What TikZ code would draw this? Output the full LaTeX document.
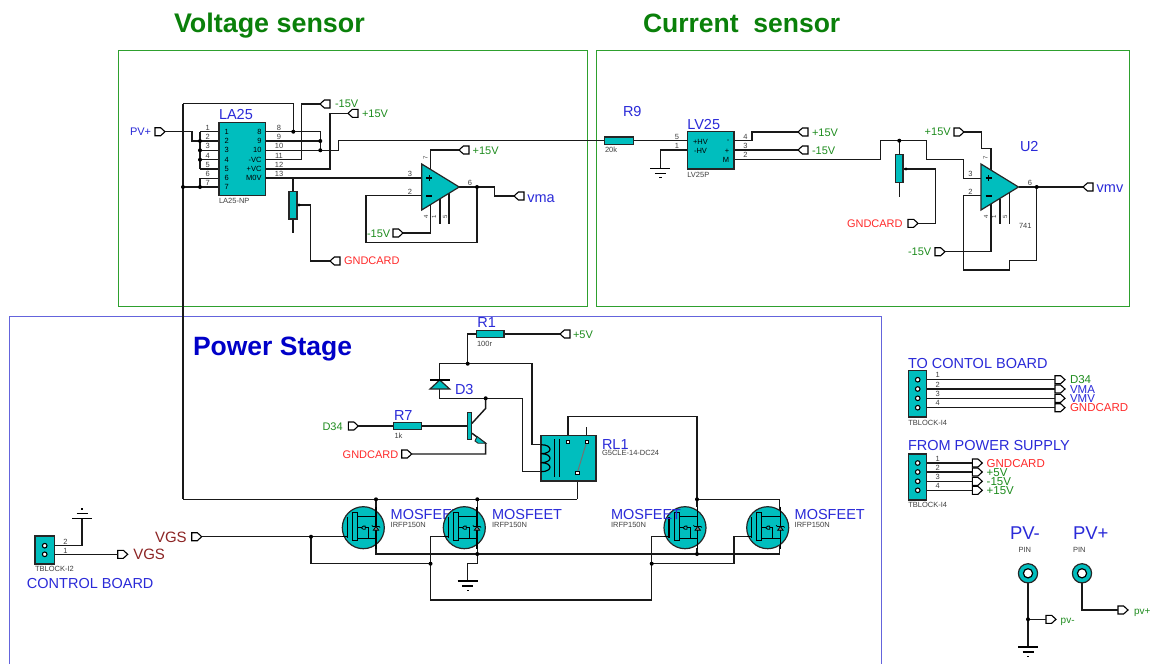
\documentclass[tikz,border=0pt]{standalone}
\usepackage{fontspec}
\setmainfont{Liberation Sans}
\usetikzlibrary{shapes.symbols}
\definecolor{teal1}{HTML}{00BEBE}
\definecolor{cB}{HTML}{2A2AD8}
\definecolor{cG}{HTML}{1E8C1E}
\definecolor{cR}{HTML}{FF2A2A}
\definecolor{cD}{HTML}{8C2424}
\definecolor{cH}{HTML}{0A800A}
\definecolor{cP}{HTML}{0000C8}
\definecolor{cT}{HTML}{404040}
\definecolor{boxG}{HTML}{2EA02E}
\definecolor{boxB}{HTML}{6464DC}
\newcounter{lbl}
\newcommand{\lab}[3]{\stepcounter{lbl}\node[#1] (lab\arabic{lbl}) at (#2) {#3};}
\tikzset{
  wire/.style={line width=1.45pt,black!90,line join=miter},
  chip/.style={draw=black!85,fill=teal1,line width=1.5pt,inner sep=0,outer sep=0,anchor=north west},
  comp/.style={draw=black!85,fill=teal1,line width=1.2pt},
  flagR/.style={draw=black,fill=white,line width=1.1pt,signal,signal to=east,signal pointer angle=85,minimum width=10pt,minimum height=8pt,inner sep=0,outer sep=0,anchor=west},
  flagL/.style={draw=black,fill=white,line width=1.1pt,signal,signal to=west,signal pointer angle=85,minimum width=10pt,minimum height=8pt,inner sep=0,outer sep=0,anchor=west},
  txt/.style={anchor=mid west,inner sep=0,outer sep=0},
  hdG/.style={txt,yshift=-6.9pt,font=\bfseries\fontsize{26.5}{28}\selectfont,text=cH},
  hdB/.style={txt,yshift=-6.9pt,font=\bfseries\fontsize{26.5}{28}\selectfont,text=cP},
  bigB/.style={txt,yshift=-2.6pt,font=\fontsize{14.5}{15}\selectfont,text=cB},
  hugeB/.style={txt,yshift=-4pt,font=\fontsize{18.5}{19}\selectfont,text=cB},
  vgs/.style={txt,yshift=-2.8pt,font=\fontsize{15}{16}\selectfont,text=cD},
  sG/.style={txt,yshift=-1.35pt,font=\fontsize{11}{12}\selectfont,text=cG},
  sR/.style={txt,yshift=-1.35pt,font=\fontsize{11}{12}\selectfont,text=cR},
  sB/.style={txt,yshift=-1.35pt,font=\fontsize{11}{12}\selectfont,text=cB},
  mG/.style={txt,yshift=-1.5pt,font=\fontsize{11.5}{12}\selectfont,text=cG},
  mR/.style={txt,yshift=-1.5pt,font=\fontsize{11.5}{12}\selectfont,text=cR},
  mB/.style={txt,yshift=-1.5pt,font=\fontsize{11.5}{12}\selectfont,text=cB},
  tinyT/.style={txt,yshift=-.1pt,font=\fontsize{7.5}{8}\selectfont,text=cT},
  pnum/.style={inner sep=0,outer sep=0,font=\fontsize{7.5}{8}\selectfont,text=cT},
  pnumR/.style={pnum,font=\fontsize{6}{7}\selectfont,rotate=90},
  inC/.style={inner sep=0,outer sep=0,font=\fontsize{7.5}{8}\selectfont,text=black},
  inE/.style={inC,anchor=east},
  opamp/.pic={
    \draw[comp] (0,-23) -- (37.5,0) -- (0,23) -- cycle;
    \draw[line width=1.2pt] (4.5,-9) -- (10.5,-9) (7.5,-12) -- (7.5,-6) (4.5,9) -- (10.5,9);
  },
  mosfet/.pic={
    \draw[comp,line width=1.2pt] (0,0) circle (21);
    \draw[line width=1.1pt] (12.7,-21) -- (12.7,21) (-21,9) -- (-16,9) (-16,-11) -- (-16,10);
    \draw[line width=1pt] (-6,-11) -- (12.7,-11) (-6,10.6) -- (12.7,10.6);
    \draw[line width=.9pt,fill=teal1] (-11,-15.4) rectangle (-6,12.3);
    \draw[line width=.9pt] (-6,0) -- (-2,0) (2,0) -- (5,0) -- (5,10.6);
    \draw[line width=.8pt] (-2,0) -- (0,-1.6) -- (2,-1.6) -- (2,1.6) -- (0,1.6) -- cycle;
    \draw[line width=.7pt,fill=black!50] (10,2.5) -- (15.4,2.5) -- (12.7,-1.2) -- cycle;
    \draw[line width=.7pt] (8.5,-2.5) -- (9.5,-1.2) -- (15.9,-1.2) -- (16.9,-0.2);
  },
  gnd/.pic={
    \draw[line width=1.2pt] (-10,0) -- (10,0) (-5.5,5) -- (5.5,5);
    \fill (-1.2,8.5) rectangle (1.2,10);
  },
  tpin/.pic={
    \draw[comp,line width=1.2pt] (0,0) circle (9.6);
    \draw[line width=1.2pt,fill=white] (0,0) circle (4.6);
  },
  contact/.style={draw=black,fill=white,line width=.8pt,inner sep=0,outer sep=0,minimum size=3.6pt},
  term/.style={circle,draw=black,fill=white,line width=1.1pt,inner sep=0,outer sep=0,minimum size=4.6pt}
}
\begin{document}
\begin{tikzpicture}[x=1pt,y=-1pt]
\useasboundingbox (0,0) rectangle (1153,664);
\fill[white] (0,0) rectangle (1153,664);
% group frames
\draw[boxG,line width=.8pt] (118,50) rectangle (587,306);
\draw[boxG,line width=.8pt] (596,50) rectangle (1129,306);
\draw[boxB,line width=.9pt] (9,664) -- (9,316) -- (881,316) -- (881,664);
\lab{hdG,font=\bfseries\fontsize{26.9}{28}\selectfont}{174,23}{Voltage sensor}
\lab{hdG}{643,23}{Current\ \ sensor}
\lab{hdB}{193,346}{Power Stage}

% ---------- coordinates
\foreach \n/\y in {1/131.7,2/141,3/150.3,4/159.7,5/169,6/178.3,7/187}{\coordinate (L\n) at (219,\y); \coordinate (B\n) at (200,\y);}
\foreach \n/\y in {8/131.7,9/141,10/150.3,11/159.7,12/169,13/178}{\coordinate (R\n) at (265.7,\y);}
\coordinate (top) at (183,103.7);
\coordinate (busL) at (183,187);
\coordinate (busB) at (183,499.3);
\coordinate (j8) at (293.3,131.7);
\coordinate (j9) at (320.3,141);
\coordinate (j10) at (320.3,150.3);
\coordinate (ja1) at (477,187);
\coordinate (ju2) at (1036.7,187);
\coordinate (jcs) at (899.3,140.7);
\coordinate (jm1) at (376,499.3);
\coordinate (jm2) at (477.3,499.3);
\coordinate (jm3) at (697,499.3);
\coordinate (jrelay) at (577.3,499.3);
\coordinate (js2) at (477.3,554);
\coordinate (js3) at (697,554);
\coordinate (jv) at (311,536.7);
\coordinate (jg2) at (430.5,563.7);
\coordinate (jg3) at (651.7,563.7);
\coordinate (jd3a) at (467.7,363.7);
\coordinate (jd3b) at (485.7,398.3);
\coordinate (jpv) at (1028,619.3);

% ---------- terminal flags
\node[flagR] (fpv) at (155,131.7) {};
\node[flagL] (fm15a) at (320,104) {};
\node[flagL] (fp15a) at (348,113.3) {};
\node[flagL] (fp15b) at (459,150) {};
\node[flagR] (fm15b) at (393,233) {};
\node[flagL] (fvma) at (514,196) {};
\node[flagL] (fgnda) at (330,261) {};
\node[flagL] (fp15c) at (798,132) {};
\node[flagL] (fm15c) at (798,150) {};
\node[flagR] (fp15d) at (954,132) {};
\node[flagR] (fm15d) at (935,251.7) {};
\node[flagR] (fgndb) at (908,223.3) {};
\node[flagL] (fvmv) at (1083,187) {};
\node[flagL] (fp5) at (560,334) {};
\node[flagR] (fd34) at (348.3,426) {};
\node[flagR] (fgndc) at (401.7,454) {};
\node[flagR] (fvgs) at (191.7,536.7) {};
\node[flagR] (fvgs2) at (117.7,554.3) {};
\foreach \i/\y in {1/379.7,2/389,3/398.3,4/407.7}{\node[flagR] (ft\i) at (1055,\y) {};}
\foreach \i/\y in {1/463,2/472,3/481.3,4/490.3}{\node[flagR] (fs\i) at (972.3,\y) {};}
\node[flagR] (fpvm) at (1046,619.3) {};
\node[flagR] (fpvp) at (1118,610) {};

% ---------- LA25 wiring
\draw[wire] (fpv.east) -- (192,131.7) -- (192,141) -- (B2);
\draw[wire] (B1) -- (B5);
\foreach \n in {1,2,3,4,5,6,7}{\draw[wire] (B\n) -- (L\n);}
\draw[wire] (B6) -- (B7);
\draw[wire] (busL) -- (B7);
\draw[wire] (top) -- (busB);
\draw[wire] (top) -| (j8);
\draw[wire] (R8) -- (320.3,131.7) -- (j10);
\draw[wire] (R9) -- (j9);
\draw[wire] (R10) -- (338.7,150.3) -- (338.7,140.7) -- (604.7,140.7);
\draw[wire] (R11) -- (301.7,159.7) -- (301.7,104) -- (fm15a.west);
\draw[wire] (R12) -- (330,169) -- (330,113.3) -- (fp15a.west);
\draw[wire] (R13) -- (421.7,178);
\draw[wire] (293,178) -- (293,233);
\draw[wire] (297,205) -- (310.7,205) -- (310.7,261) -- (fgnda.west);
% op amp 1 wiring
\draw[wire] (421.7,195.7) -- (366,195.7) -- (366,242.3) -- (477,242.3) -- (ja1);
\draw[wire] (459.2,187) -- (494.3,187) -- (494.3,196) -- (fvma.west);
\draw[wire] (430.3,170) -- (430.3,150) -- (fp15b.west);
\draw[wire] (fm15b.east) -- (430.3,233) -- (430.3,204);
\draw[wire,line width=1.1pt] (440,199) -- (440,224) (449,193) -- (449,224);

% ---------- current sensor wiring
\draw[wire] (633,140.7) -- (687.3,140.7);
\draw[wire] (687.3,150) -- (660.3,150) -- (660.3,168.3);
\draw[wire] (734,140.7) -- (752,140.7) -- (752,132) -- (fp15c.west);
\draw[wire] (734,150) -- (fm15c.west);
\draw[wire] (734,159.3) -- (880.7,159.3) -- (880.7,140.7) -- (926.7,140.7) -- (926.7,159.3) -- (963.3,159.3) -- (963.3,178.3) -- (981,178.3);
\draw[wire] (jcs) -- (899.3,196.7);
\draw[wire] (903,169) -- (935.7,169) -- (935.7,223.3) -- (fgndb.east);
\draw[wire] (fp15d.east) -- (981.7,132) -- (981.7,148.7) -- (991,148.7) -- (991,170);
\draw[wire] (fm15d.east) -- (991,251.7) -- (991,204);
\draw[wire,line width=1.1pt] (1000,199) -- (1000,224) (1009.3,193) -- (1009.3,224);
\draw[wire] (981,195.7) -- (963.3,195.7) -- (963.3,270) -- (1009.3,270) -- (1009.3,260.7) -- (1036.7,260.7) -- (ju2);
\draw[wire] (1018.7,187) -- (fvmv.west);

% ---------- power stage wiring
\draw[wire] (fp5.west) -- (504,334);
\draw[wire] (476.7,334) -- (467.7,334) -- (jd3a);
\draw[wire] (439.7,380) -- (439.7,363.7) -- (532,363.7) -- (532,444.7) -- (541,444.7);
\draw[wire] (439.7,389) -- (439.7,398.3) -- (522.3,398.3) -- (522.3,471.7) -- (541,471.7);
\draw[wire] (fd34.east) -- (393.3,426);
\draw[wire] (421.7,426) -- (467.7,426);
\draw[wire] (jd3b) -- (485.7,408.3) -- (472,423.3);
\draw[wire] (472,433.3) -- (485.7,443.3) -- (485.7,454) -- (fgndc.east);
\draw[wire] (568,441.7) -- (568,416.7) -- (697,416.7) -- (697,507);
\draw[wire] (586.7,441.7) -- (586.7,426.7);
\draw[wire] (577.3,472.7) -- (jrelay);
\draw[wire] (busB) -- (jrelay);
\draw[wire] (jm1) -- (376,507) (jm2) -- (477.3,507);
\draw[wire] (376,548) -- (376,554) -- (779.7,554) -- (779.7,499.3) -- (jm3);
\draw[wire] (697,548) -- (js3);
\draw[wire] (js2) -- (477.3,563.7) -- (467.7,563.7) -- (467.7,581);
\draw[wire] (477.3,548) -- (js2);
\draw[wire] (fvgs.east) -- (342.3,536.7);
\draw[wire] (jv) -- (311,563.7) -- (jg2);
\draw[wire] (443.3,536.7) -- (430.5,536.7) -- (430.5,600) -- (651.7,600) -- (651.7,536.7) -- (664,536.7);
\draw[wire] (jg3) -- (734,563.7) -- (734,536.7) -- (746.7,536.7);

% ---------- control board block wiring
\draw[wire] (44.7,545.7) -- (82,545.7) -- (82,518.3);
\draw[wire] (44.7,554.3) -- (fvgs2.west);

% ---------- connector blocks wiring
\foreach \i/\y in {1/379.7,2/389,3/398.3,4/407.7}{\draw[wire] (917.7,\y) -- (ft\i.west);}
\foreach \i/\y in {1/463,2/472,3/481.3,4/490.3}{\draw[wire] (917.7,\y) -- (fs\i.west);}
\draw[wire] (1028,573) -- (1028,647);
\draw[wire] (jpv) -- (fpvm.west);
\draw[wire] (1082,573) -- (1082,610) -- (fpvp.west);

% ---------- components
\node[chip,minimum width=46.7pt,minimum height=73.4pt] (la25) at (219,122.3) {};
\node[chip,minimum width=46.7pt,minimum height=37.3pt] (lv25) at (687.3,131.7) {};
\node[chip,minimum width=7.7pt,minimum height=27.3pt] (pot1) at (289.2,191.7) {};
\node[chip,minimum width=7.4pt,minimum height=28pt] (pot2) at (895.5,154.3) {};
\node[chip,minimum width=28.6pt,minimum height=7.3pt] (r9) at (604.7,137) {};
\node[chip,minimum width=27.3pt,minimum height=7.4pt] (r1) at (476.7,330.3) {};
\node[chip,minimum width=28.4pt,minimum height=7pt] (r7) at (393.3,422.4) {};
\fill (299,205) circle (1.7);
\fill (906,169) circle (1.7);
\pic at (421.7,187) {opamp};
\pic at (981,187) {opamp};

% diode D3
\draw[comp] (439.7,380) -- (430,389) -- (449.7,389) -- cycle;
\draw[line width=1.3pt] (430,380) -- (450,380);

% transistor
\draw[comp,line width=1.1pt] (467.7,412.7) rectangle (471.7,439.3);
\draw[comp,line width=.9pt] (477,436.5) -- (485.7,443.3) -- (478,443.2) -- (475,441) -- cycle;

% relay
\node[chip,minimum width=55pt,minimum height=45.7pt] (rl1) at (541,435.3) {};
\draw[line width=1.2pt] (541,444.7) .. controls (553,444.7) and (553,453.7) .. (541,453.7) .. controls (553,453.7) and (553,462.7) .. (541,462.7) .. controls (553,462.7) and (553,471.7) .. (541,471.7);
\draw[line width=1.1pt] (554.3,439.3) -- (554.3,476.7) (559.3,439.3) -- (559.3,476.7);
\draw[line width=1pt,black!55] (577.3,472.7) -- (586.7,441.7);
\node[contact] (c1) at (568,441.7) {};
\node[contact] (c2) at (586.7,441.7) {};
\node[contact] (c3) at (577.3,472.7) {};

% grounds
\pic at (660.3,168.3) {gnd};
\pic at (467.7,581) {gnd};
\pic at (1028,647) {gnd};
\pic[yscale=-1] at (82,518.3) {gnd};

% MOSFETs (in drawing order so the labels overlap as printed)
\pic at (363.3,527.7) {mosfet};
\lab{bigB}{390.7,514}{MOSFEET}
\lab{tinyT}{390.7,524.5}{IRFP150N}
\pic at (464.3,527.7) {mosfet};
\lab{bigB}{492,514}{MOSFEET}
\lab{tinyT}{492,524.5}{IRFP150N}
\pic at (685,527.7) {mosfet};
\lab{bigB}{611,514}{MOSFEET}
\lab{tinyT}{611,524.5}{IRFP150N}
\pic at (767.7,527.7) {mosfet};
\lab{bigB}{794.7,514}{MOSFEET}
\lab{tinyT}{794.7,524.5}{IRFP150N}

% terminal blocks
\node[chip,minimum width=18.4pt,minimum height=46.7pt] (tb1) at (908.3,370.3) {};
\node[chip,minimum width=18.4pt,minimum height=46pt] (tb2) at (908.3,454) {};
\node[chip,minimum width=19.3pt,minimum height=28pt] (tb3) at (35,536) {};
\foreach \y in {379.7,389,398.3,407.7,463,472,481.3,490.3}{\node[term] at (917.7,\y) {};}
\foreach \y in {545.7,554.3}{\node[term] at (44.7,\y) {};}
\pic at (1028,573.3) {tpin};
\pic at (1082,573.3) {tpin};

% junctions
\foreach \p in {B2,B3,B4,B7,busL,j8,j9,j10,ja1,ju2,jcs,jm1,jm2,jm3,js2,js3,jv,jg2,jg3,jd3a,jd3b,jpv}{\fill (\p) circle (2);}

% ---------- LA25 text
\lab{bigB}{219,114.5}{LA25}
\lab{tinyT}{219,201}{LA25-NP}
\foreach \n/\y in {1/131.7,2/141,3/150.3,4/159.7,5/169,6/178.3,7/187}{
  \lab{inC}{226.7,\y}{\n}
  \lab{pnum}{207.7,\y-4.2}{\n}
}
\foreach \t/\y in {8/131.7,9/141,10/150.3,-VC/159.7,+VC/169,M0V/178.3}{\lab{inE}{261.5,\y}{\t}}
\foreach \n/\y in {8/131.7,9/141,10/150.3,11/159.7,12/169,13/178.3}{\lab{pnum}{279,\y-4.2}{\n}}
\lab{sB}{130,132}{PV+}
\lab{sG}{335,104}{-15V}
\lab{sG}{362,113.5}{+15V}
\lab{sG}{472.7,150.5}{+15V}
\lab{sG}{367,233.5}{-15V}
\lab{sR}{344,261}{GNDCARD}
\lab{bigB}{527.3,197}{vma}
\lab{pnum}{410,174}{3}
\lab{pnum}{410,191.5}{2}
\lab{pnum}{470,182.5}{6}
\lab{pnumR}{425.5,158}{7}
\lab{pnumR}{426,217}{4}
\lab{pnumR}{434,217}{1}
\lab{pnumR}{445,217}{5}

% ---------- LV25 text
\lab{bigB}{623,111}{R9}
\lab{tinyT}{605,150}{20k}
\lab{bigB}{687.3,124}{LV25}
\lab{tinyT}{687.3,174.5}{LV25P}
\lab{inC}{700.5,141.5}{+HV}
\lab{inC}{700.5,151}{-HV}
\lab{inC}{728,141.5}{-}
\lab{inC}{727,151}{+}
\lab{inC}{726,160}{M}
\lab{pnum}{677,136.5}{5}
\lab{pnum}{677,146}{1}
\lab{pnum}{745.5,136.5}{4}
\lab{pnum}{745.5,145.5}{3}
\lab{pnum}{745.5,155}{2}
\lab{sG}{812,132.5}{+15V}
\lab{sG}{812,151}{-15V}
\lab{sG}{924.7,132}{+15V}
\lab{sG}{908,252}{-15V}
\lab{sR}{847,223.5}{GNDCARD}
\lab{bigB}{1020,146}{U2}
\lab{bigB}{1096.7,187.5}{vmv}
\lab{tinyT}{1019,225.5}{741}
\lab{pnum}{970.5,174}{3}
\lab{pnum}{970.5,191.5}{2}
\lab{pnum}{1030,182.5}{6}
\lab{pnumR}{985.5,158}{7}
\lab{pnumR}{986,217}{4}
\lab{pnumR}{994,217}{1}
\lab{pnumR}{1005,217}{5}

% ---------- power stage text
\lab{bigB}{477.3,322}{R1}
\lab{tinyT}{477,343.5}{100r}
\lab{sG}{573,334.5}{+5V}
\lab{bigB}{455,389}{D3}
\lab{bigB}{394,415}{R7}
\lab{tinyT}{394.5,435.5}{1k}
\lab{sG}{322.5,426.5}{D34}
\lab{sR}{342.7,454.5}{GNDCARD}
\lab{bigB}{602,444}{RL1}
\lab{tinyT}{602,453}{G5CLE-14-DC24}
\lab{vgs}{155,537}{VGS}
\lab{vgs}{133.3,554.5}{VGS}
\lab{tinyT}{35,569}{TBLOCK-I2}
\lab{bigB}{27,583}{CONTROL BOARD}
\lab{pnum}{65.5,541.5}{2}
\lab{pnum}{65.5,550.5}{1}

% ---------- connector block text
\lab{bigB}{908,363}{TO CONTOL BOARD}
\lab{tinyT}{908.3,422.5}{TBLOCK-I4}
\foreach \n/\y in {1/375.3,2/384.7,3/394,4/403.3}{\lab{pnum}{937.7,\y}{\n}}
\lab{mG}{1070,379.5}{D34}
\lab{mB}{1070,389}{VMA}
\lab{mB}{1070,398}{VMV}
\lab{mR}{1070,407.5}{GNDCARD}
\lab{bigB}{908,445.7}{FROM POWER SUPPLY}
\lab{tinyT}{908.3,505}{TBLOCK-I4}
\foreach \n/\y in {1/458.8,2/467.8,3/477,4/486}{\lab{pnum}{937.7,\y}{\n}}
\lab{mR}{986.7,463}{GNDCARD}
\lab{mG}{986.7,472}{+5V}
\lab{mG}{986.7,481.5}{-15V}
\lab{mG}{986.7,490.5}{+15V}

% ---------- panel pins text
\lab{hugeB}{1010,532.5}{PV-}
\lab{hugeB}{1073,532.5}{PV+}
\lab{tinyT}{1018.5,549.5}{PIN}
\lab{tinyT}{1073,549.5}{PIN}
\lab{txt,yshift=-1pt,font=\fontsize{10}{11}\selectfont,text=cG}{1060.7,620}{pv-}
\lab{txt,yshift=-1pt,font=\fontsize{10}{11}\selectfont,text=cG}{1134,611}{pv+}
\end{tikzpicture}
\end{document}
